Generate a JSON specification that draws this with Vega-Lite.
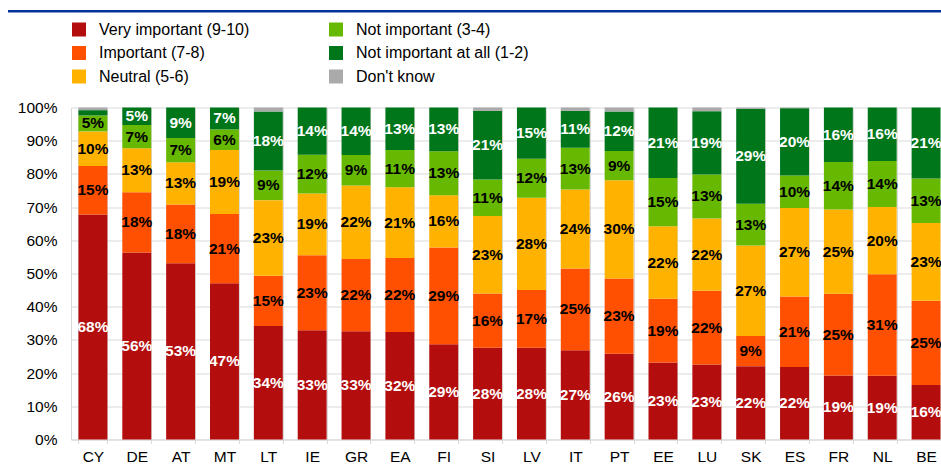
{
  "$schema": "https://vega.github.io/schema/vega-lite/v6.json",
  "autosize": "none",
  "width": 870,
  "height": 332,
  "padding": {"left": 71, "top": 107.5, "right": 0, "bottom": 26.5},
  "background": "white",
  "config": {
    "font": "Liberation Sans",
    "view": {"stroke": null},
    "axis": {"labelFont": "Liberation Sans", "labelColor": "#000000"},
    "axisY": {"tickCount": 10, "labelOverlap": false, "ticks": false, "labelPadding": 14, "gridColor": "#d9d9d9", "domainColor": "#d9d9d9", "labelFontSize": 15.5, "title": null},
    "legend": {"labelFont": "Liberation Sans", "labelColor": "#000000"}
  },
  "resolve": {"scale": {"x": "independent"}, "axis": {"x": "independent"}},
  "layer": [
    {
      "data": {
        "values": [
          {"c": "CY", "vi": 67.8, "im": 14.6, "ne": 10.4, "ni": 4.8, "na": 1.6, "dk": 0.8},
          {"c": "DE", "vi": 56.3, "im": 18.2, "ne": 13.2, "ni": 7.0, "na": 5.3, "dk": 0},
          {"c": "AT", "vi": 53.1, "im": 17.7, "ne": 12.7, "ni": 7.3, "na": 9.2, "dk": 0},
          {"c": "MT", "vi": 47.1, "im": 20.8, "ne": 19.3, "ni": 6.2, "na": 6.6, "dk": 0},
          {"c": "LT", "vi": 34.2, "im": 15.1, "ne": 22.8, "ni": 8.9, "na": 17.8, "dk": 1.2},
          {"c": "IE", "vi": 32.9, "im": 22.6, "ne": 18.6, "ni": 11.7, "na": 14.2, "dk": 0},
          {"c": "GR", "vi": 32.6, "im": 21.8, "ne": 22.1, "ni": 9.2, "na": 14.3, "dk": 0},
          {"c": "EA", "vi": 32.4, "im": 22.3, "ne": 21.3, "ni": 11.2, "na": 12.8, "dk": 0},
          {"c": "FI", "vi": 28.7, "im": 29.1, "ne": 15.8, "ni": 13.2, "na": 13.2, "dk": 0},
          {"c": "SI", "vi": 27.6, "im": 16.4, "ne": 23.3, "ni": 11.0, "na": 20.7, "dk": 1.0},
          {"c": "LV", "vi": 27.6, "im": 17.4, "ne": 27.8, "ni": 11.8, "na": 15.4, "dk": 0},
          {"c": "IT", "vi": 26.9, "im": 24.6, "ne": 23.8, "ni": 12.6, "na": 11.1, "dk": 1.0},
          {"c": "PT", "vi": 25.8, "im": 22.7, "ne": 29.6, "ni": 8.8, "na": 11.9, "dk": 1.2},
          {"c": "EE", "vi": 23.2, "im": 19.2, "ne": 21.8, "ni": 14.6, "na": 21.2, "dk": 0},
          {"c": "LU", "vi": 22.6, "im": 22.2, "ne": 21.8, "ni": 13.2, "na": 19.1, "dk": 1.1},
          {"c": "SK", "vi": 22.1, "im": 9.1, "ne": 27.2, "ni": 12.6, "na": 28.6, "dk": 0.4},
          {"c": "ES", "vi": 21.8, "im": 21.3, "ne": 26.6, "ni": 9.8, "na": 20.3, "dk": 0.2},
          {"c": "FR", "vi": 19.3, "im": 24.6, "ne": 25.4, "ni": 14.3, "na": 16.4, "dk": 0},
          {"c": "NL", "vi": 19.2, "im": 30.6, "ne": 20.2, "ni": 13.9, "na": 16.1, "dk": 0},
          {"c": "BE", "vi": 16.4, "im": 25.4, "ne": 23.4, "ni": 13.4, "na": 21.4, "dk": 0}
        ]
      },
      "transform": [
        {"fold": ["vi", "im", "ne", "ni", "na", "dk"], "as": ["key", "v"]},
        {"calculate": "indexof(['vi', 'im', 'ne', 'ni', 'na', 'dk'], datum.key)", "as": "k"},
        {"calculate": "['Very important (9-10)', 'Important (7-8)', 'Neutral (5-6)', 'Not important (3-4)', 'Not important at all (1-2)', \"Don't know\"][datum.k]", "as": "cat"},
        {"stack": "v", "groupby": ["c"], "sort": [{"field": "k", "order": "ascending"}], "as": ["y0", "y1"]},
        {"calculate": "(datum.y0 + datum.y1) / 2", "as": "mid"},
        {"calculate": "format(datum.v, '.0f') + '%'", "as": "lab"}
      ],
      "encoding": {
        "x": {
          "field": "c", "type": "nominal", "sort": null,
          "scale": {"range": [0, 877], "paddingInner": 0.34, "paddingOuter": 0.17},
          "axis": {
            "title": null, "labelAngle": 0, "grid": true, "tickBand": "extent",
            "gridColor": "#d9d9d9", "domainColor": "#d9d9d9", "tickColor": "#d9d9d9",
            "tickSize": 4, "labelFontSize": 15.5, "labelPadding": 6
          }
        }
      },
      "layer": [
        {
          "mark": {"type": "bar"},
          "encoding": {
            "y": {
              "field": "y1", "type": "quantitative",
              "scale": {"domain": [0, 100], "nice": false},
              "axis": {"title": null, "labelExpr": "datum.value + '%'"}
            },
            "y2": {"field": "y0"},
            "color": {
              "field": "cat", "type": "nominal",
              "scale": {
                "domain": ["Very important (9-10)", "Important (7-8)", "Neutral (5-6)", "Not important (3-4)", "Not important at all (1-2)", "Don't know"],
                "range": ["#b30d0d", "#ff4f00", "#ffb300", "#66b800", "#00761a", "#aaaaaa"]
              },
              "legend": {
                "title": null, "orient": "none", "legendX": 0, "legendY": -86,
                "columns": 2, "columnPadding": 78, "rowPadding": 7.5,
                "symbolType": "square", "symbolSize": 196, "symbolStrokeWidth": 0,
                "labelFontSize": 16, "labelOffset": 12, "padding": 0, "labelLimit": 300
              }
            }
          }
        },
        {
          "transform": [{"filter": "datum.v >= 3"}],
          "mark": {"type": "text", "fontWeight": "bold", "fontSize": 15.5, "baseline": "middle", "align": "center"},
          "encoding": {
            "y": {"field": "mid", "type": "quantitative", "axis": {"title": null, "labelExpr": "datum.value + '%'"}},
            "text": {"field": "lab"},
            "color": {
              "condition": {"test": "datum.k === 0 || datum.k === 4", "value": "#ffffff"},
              "value": "#000000"
            }
          }
        }
      ]
    },
    {
      "data": {"values": [{"line": "top"}]},
      "mark": {"type": "rule", "color": "#003399", "strokeWidth": 2.5},
      "encoding": {
        "x": {"datum": -0.0724, "type": "quantitative", "scale": {"domain": [0, 1]}, "axis": null},
        "x2": {"datum": 1.0},
        "y": {"datum": 129, "type": "quantitative", "axis": {"title": null, "labelExpr": "datum.value + '%'"}}
      }
    }
  ]
}
